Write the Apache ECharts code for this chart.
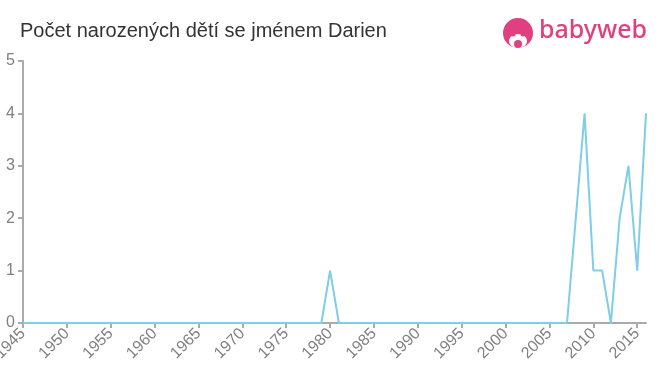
<!DOCTYPE html>
<html>
<head>
<meta charset="utf-8">
<script src="https://cdn.jsdelivr.net/npm/echarts@6/dist/echarts.min.js"></script>
<style>html,body{margin:0;padding:0;background:#fff}#c{width:660px;height:375px}</style>
</head>
<body>
<div id="c"></div>
<script>
var titleText = 'Počet narozených dětí se jménem Darien';
var years = [1945,1946,1947,1948,1949,1950,1951,1952,1953,1954,1955,1956,1957,1958,1959,1960,1961,1962,1963,1964,1965,1966,1967,1968,1969,1970,1971,1972,1973,1974,1975,1976,1977,1978,1979,1980,1981,1982,1983,1984,1985,1986,1987,1988,1989,1990,1991,1992,1993,1994,1995,1996,1997,1998,1999,2000,2001,2002,2003,2004,2005,2006,2007,2008,2009,2010,2011,2012,2013,2014,2015,2016];
var counts = [0,0,0,0,0,0,0,0,0,0,0,0,0,0,0,0,0,0,0,0,0,0,0,0,0,0,0,0,0,0,0,0,0,0,0,1,0,0,0,0,0,0,0,0,0,0,0,0,0,0,0,0,0,0,0,0,0,0,0,0,0,0,0,2,4,1,1,0,2,3,1,4];

var pink = '#e0407f';
var chart = echarts.init(document.getElementById('c'));
chart.setOption({
  animation: false,
  title: {
    text: titleText, left: 15, top: 16,
    textStyle: {fontFamily: 'Liberation Sans, Arial, sans-serif', fontSize: 20, fontWeight: 'normal', color: '#333'}
  },
  graphic: [
    {type: 'circle', shape: {cx: 518, cy: 33, r: 15}, style: {fill: pink}},
    {type: 'ellipse', shape: {cx: 518, cy: 41, rx: 9, ry: 7}, style: {fill: '#fff'}},
    {type: 'circle', shape: {cx: 513, cy: 34, r: 2.5}, style: {fill: pink}},
    {type: 'circle', shape: {cx: 523, cy: 34, r: 2.5}, style: {fill: pink}},
    {type: 'circle', shape: {cx: 518, cy: 44, r: 4}, style: {fill: pink}},
    {type: 'text', left: 539, top: 18, style: {text: 'babyweb', fill: pink, font: '500 25px "Noto Sans", Lato, sans-serif'}}
  ],
  grid: {left: 23, right: 14, top: 61, bottom: 52, containLabel: false, outerBoundsMode: 'none'},
  xAxis: {
    type: 'value', min: 1945, max: 2016, interval: 5,
    axisLine: {lineStyle: {color: '#aaa', width: 2}},
    axisTick: {show: true, length: 5, lineStyle: {color: '#aaa', width: 2}},
    axisLabel: {rotate: 45, fontSize: 16, color: '#808080', fontFamily: 'Liberation Sans, Arial, sans-serif', margin: 8, showMaxLabel: false, formatter: function(v){return String(v);}},
    splitLine: {show: false}
  },
  yAxis: {
    type: 'value', min: 0, max: 5, interval: 1,
    axisLine: {show: true, lineStyle: {color: '#aaa', width: 2}},
    axisTick: {show: true, length: 5, lineStyle: {color: '#aaa', width: 2}},
    axisLabel: {fontSize: 16, color: '#808080', fontFamily: 'Liberation Sans, Arial, sans-serif', margin: 8},
    splitLine: {show: false}
  },
  series: [{
    type: 'line',
    data: years.map(function(y, i){return [y, counts[i]];}),
    showSymbol: false,
    lineStyle: {color: '#7ecdea', width: 2},
    itemStyle: {color: '#7ecdea'}
  }]
});
</script>
</body>
</html>
